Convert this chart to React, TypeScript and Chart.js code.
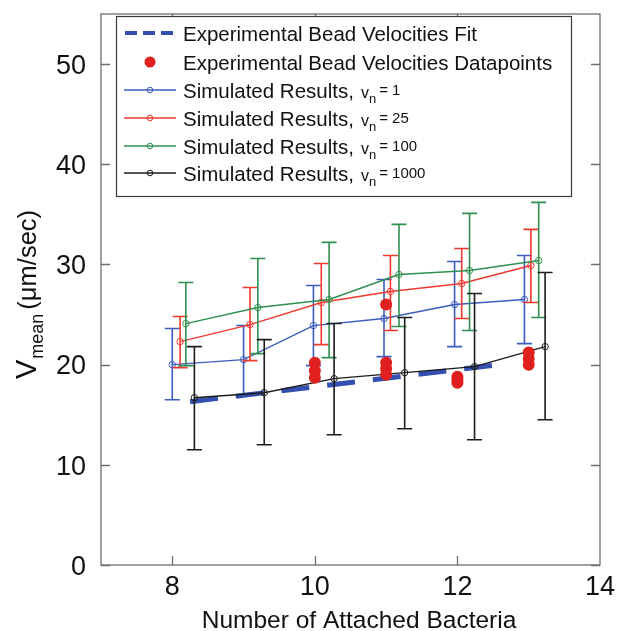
import { useEffect, useRef } from "react";
import { Chart, registerables } from "chart.js";

Chart.register(...registerables);

const W = 626;
const H = 631;
const FONT = "'Liberation Sans', Arial, Helvetica, sans-serif";

// ---- tick labels ----
const xTicks = [8, 10, 12, 14];
const yTicks = [0, 10, 20, 30, 40, 50];

// ---- experimental fit ----
const fitX = [8.25, 12.7];
const fitY = [16.3, 20.1];

// ---- experimental datapoints ----
const dotX = [10, 10, 10, 11, 11, 11, 11, 12, 12, 12, 13, 13, 13];
const dotY = [20.2, 19.4, 18.7, 26.0, 20.2, 19.6, 19.0, 18.8, 18.5, 18.2, 21.2, 20.6, 20.0];

// ---- simulated, v_n = 1 ----
const blueX = [8.0, 9.0, 9.98, 10.97, 11.96, 12.94];
const blueY = [20.0, 20.5, 23.9, 24.6, 26.0, 26.5];
const blueHi = [23.6, 23.9, 27.9, 28.5, 30.3, 30.9];
const blueLo = [16.5, 17.0, 19.9, 20.8, 21.8, 22.1];

// ---- simulated, v_n = 25 ----
const redX = [8.11, 9.09, 10.09, 11.06, 12.06, 13.03];
const redY = [22.3, 24.0, 26.2, 27.3, 28.1, 29.9];
const redHi = [24.8, 27.7, 30.1, 30.9, 31.6, 33.5];
const redLo = [19.7, 20.4, 22.0, 23.4, 24.6, 26.2];

// ---- simulated, v_n = 100 ----
const greenX = [8.19, 9.2, 10.2, 11.18, 12.17, 13.14];
const greenY = [24.1, 25.7, 26.5, 29.0, 29.4, 30.4];
const greenHi = [28.2, 30.6, 32.2, 34.0, 35.1, 36.2];
const greenLo = [19.9, 21.1, 20.7, 23.8, 23.4, 24.7];

// ---- simulated, v_n = 1000 ----
const blackX = [8.31, 9.29, 10.27, 11.26, 12.24, 13.23];
const blackY = [16.7, 17.2, 18.6, 19.2, 19.8, 21.8];
const blackHi = [21.8, 22.5, 24.1, 24.7, 27.1, 29.2];
const blackLo = [11.5, 12.0, 13.0, 13.6, 12.5, 14.5];

const legendLabels = [
  "Experimental Bead Velocities Fit",
  "Experimental Bead Velocities Datapoints",
  "Simulated Results,",
  "Simulated Results,",
  "Simulated Results,",
  "Simulated Results,",
];
const legendVn = ["", "", "1", "25", "100", "1000"];

const C_BLUE = "#3d5cbf";
const C_RED = "#ee3a2e";
const C_GREEN = "#2f8f4f";
const C_BLACK = "#1c1c1c";
const C_FIT = "#3350b0";
const C_DOT = "#e01f1f";

const pts = (xs: number[], ys: number[]) => xs.map((x, i) => ({ x, y: ys[i] }));

const simDataset = (label: string, xs: number[], ys: number[], hi: number[], lo: number[], color: string) => ({
  label,
  data: pts(xs, ys),
  showLine: true,
  borderColor: color,
  backgroundColor: "rgba(0,0,0,0)",
  borderWidth: 1.4,
  pointRadius: 3.2,
  pointBorderWidth: 1,
  pointBorderColor: color,
  pointBackgroundColor: "rgba(0,0,0,0)",
  errHi: hi,
  errLo: lo,
});

const customPlugin = {
  id: "customDraw",
  afterDatasetDraw(chart: any, args: any) {
    const ds = chart.data.datasets[args.index];
    if (!ds.errHi) return;
    const xs = chart.scales.x;
    const ys = chart.scales.y;
    const ctx = chart.ctx;
    ctx.save();
    ctx.strokeStyle = ds.borderColor;
    ctx.lineWidth = 1.6;
    ds.data.forEach((p: any, i: number) => {
      const px = xs.getPixelForValue(p.x);
      const top = ys.getPixelForValue(ds.errHi[i]);
      const bot = ys.getPixelForValue(ds.errLo[i]);
      ctx.beginPath();
      ctx.moveTo(px, top);
      ctx.lineTo(px, bot);
      ctx.moveTo(px - 7.5, top);
      ctx.lineTo(px + 7.5, top);
      ctx.moveTo(px - 7.5, bot);
      ctx.lineTo(px + 7.5, bot);
      ctx.stroke();
    });
    ctx.restore();
  },
  afterDraw(chart: any) {
    const ctx = chart.ctx;
    const a = chart.chartArea;
    const xs = chart.scales.x;
    const ys = chart.scales.y;
    ctx.save();

    // frame + inward ticks
    ctx.strokeStyle = "#6e6e6e";
    ctx.lineWidth = 1.3;
    ctx.strokeRect(a.left, a.top, a.right - a.left, a.bottom - a.top);
    ctx.beginPath();
    yTicks.forEach((v) => {
      const py = Math.round(ys.getPixelForValue(v)) + 0.5;
      ctx.moveTo(a.left, py);
      ctx.lineTo(a.left + 9, py);
      ctx.moveTo(a.right, py);
      ctx.lineTo(a.right - 9, py);
    });
    xTicks.forEach((v) => {
      const px = Math.round(xs.getPixelForValue(v)) + 0.5;
      if (px > a.right - 2) return;
      ctx.moveTo(px, a.bottom);
      ctx.lineTo(px, a.bottom - 9);
      ctx.moveTo(px, a.top);
      ctx.lineTo(px, a.top + 9);
    });
    ctx.stroke();

    // tick labels
    const tf = 27;
    ctx.fillStyle = "#111";
    ctx.font = `${tf}px ${FONT}`;
    ctx.textBaseline = "alphabetic";
    ctx.textAlign = "right";
    yTicks.forEach((v) => {
      const py = ys.getPixelForValue(v);
      ctx.fillText(String(v), 86, py + tf * 0.36);
    });
    ctx.textAlign = "center";
    xTicks.forEach((v) => {
      const px = xs.getPixelForValue(v);
      ctx.fillText(String(v), px, 595);
    });

    // x title
    ctx.font = `24.5px ${FONT}`;
    ctx.fillText("Number of Attached Bacteria", 359, 628);

    // y title (rotated, with subscript)
    ctx.save();
    ctx.translate(36, 379);
    ctx.rotate(-Math.PI / 2);
    ctx.textAlign = "left";
    ctx.font = `29px ${FONT}`;
    ctx.fillText("V", 0, 0);
    let off = ctx.measureText("V").width + 1;
    ctx.font = `18px ${FONT}`;
    ctx.fillText("mean", off, 7);
    off += ctx.measureText("mean").width + 4;
    ctx.font = `25.5px ${FONT}`;
    ctx.fillText("(\u03bcm/sec)", off, 0);
    ctx.restore();

    // legend
    const lx0 = 116, ly0 = 16, lx1 = 571, ly1 = 196;
    ctx.fillStyle = "#fff";
    ctx.fillRect(lx0, ly0, lx1 - lx0, ly1 - ly0);
    ctx.strokeStyle = "#3a3a3a";
    ctx.lineWidth = 1.2;
    ctx.strokeRect(lx0 + 0.5, ly0 + 0.5, lx1 - lx0, ly1 - ly0);
    const rowY = [33, 62, 90, 118, 146, 173];
    const sampleCols = [C_FIT, C_DOT, C_BLUE, C_RED, C_GREEN, C_BLACK];
    rowY.forEach((y, i) => {
      const col = sampleCols[i];
      if (i === 0) {
        ctx.strokeStyle = col;
        ctx.lineWidth = 4;
        ctx.setLineDash([12, 6]);
        ctx.beginPath();
        ctx.moveTo(125, y);
        ctx.lineTo(176, y);
        ctx.stroke();
        ctx.setLineDash([]);
      } else if (i === 1) {
        ctx.fillStyle = col;
        ctx.beginPath();
        ctx.arc(150, y, 5.5, 0, Math.PI * 2);
        ctx.fill();
      } else {
        ctx.strokeStyle = col;
        ctx.lineWidth = 1.4;
        ctx.beginPath();
        ctx.moveTo(124, y);
        ctx.lineTo(176, y);
        ctx.stroke();
        ctx.lineWidth = 1;
        ctx.beginPath();
        ctx.arc(150, y, 2.8, 0, Math.PI * 2);
        ctx.stroke();
      }
      ctx.fillStyle = "#111";
      ctx.textAlign = "left";
      ctx.font = `20.5px ${FONT}`;
      ctx.fillText(legendLabels[i], 183, y + 7.5);
      if (legendVn[i]) {
        let x = 183 + ctx.measureText(legendLabels[i]).width + 7;
        ctx.font = `16px ${FONT}`;
        ctx.fillText("v", x, y + 7.5);
        x += ctx.measureText("v").width;
        ctx.font = `13px ${FONT}`;
        ctx.fillText("n", x, y + 13);
        x += ctx.measureText("n").width + 3;
        ctx.font = `15px ${FONT}`;
        ctx.fillText("= " + legendVn[i], x, y + 5);
      }
    });

    ctx.restore();
  },
};

export default function App() {
  const ref = useRef<HTMLCanvasElement | null>(null);
  useEffect(() => {
    if (!ref.current) return;
    const chart = new Chart(ref.current, {
      type: "scatter",
      data: {
        datasets: [
          {
            label: "Experimental Bead Velocities Datapoints",
            data: pts(dotX, dotY),
            showLine: false,
            pointRadius: 6,
            pointBackgroundColor: C_DOT,
            pointBorderColor: C_DOT,
            pointBorderWidth: 0,
          } as any,
          simDataset("Simulated Results, vn = 1000", blackX, blackY, blackHi, blackLo, C_BLACK),
          {
            label: "Experimental Bead Velocities Fit",
            data: pts(fitX, fitY),
            showLine: true,
            borderColor: C_FIT,
            borderWidth: 5,
            borderDash: [28, 18],
            pointRadius: 0,
          } as any,
          simDataset("Simulated Results, vn = 100", greenX, greenY, greenHi, greenLo, C_GREEN),
          simDataset("Simulated Results, vn = 25", redX, redY, redHi, redLo, C_RED),
          simDataset("Simulated Results, vn = 1", blueX, blueY, blueHi, blueLo, C_BLUE),
        ],
      },
      options: {
        responsive: false,
        animation: false,
        layout: { padding: { top: 14, right: 26, left: 0, bottom: 0 } },
        plugins: { legend: { display: false }, tooltip: { enabled: false } },
        scales: {
          x: {
            type: "linear",
            min: 7,
            max: 14,
            grid: { display: false },
            border: { display: false },
            ticks: { display: false },
            afterBuildTicks: (s: any) => {
              s.ticks = xTicks.map((v) => ({ value: v }));
            },
            afterFit: (s: any) => {
              s.height = 66;
              s.paddingLeft = 0;
              s.paddingRight = 0;
            },
          },
          y: {
            type: "linear",
            min: 0,
            max: 55,
            grid: { display: false },
            border: { display: false },
            ticks: { display: false },
            afterBuildTicks: (s: any) => {
              s.ticks = yTicks.map((v) => ({ value: v }));
            },
            afterFit: (s: any) => {
              s.width = 101;
              s.paddingTop = 0;
              s.paddingBottom = 0;
            },
          },
        },
      } as any,
      plugins: [customPlugin],
    });
    return () => chart.destroy();
  }, []);
  return (
    <div style={{ position: "absolute", left: 0, top: 0, width: W, height: H, background: "#fff" }}>
      <canvas ref={ref} width={W} height={H} style={{ width: W, height: H, display: "block" }} />
    </div>
  );
}
